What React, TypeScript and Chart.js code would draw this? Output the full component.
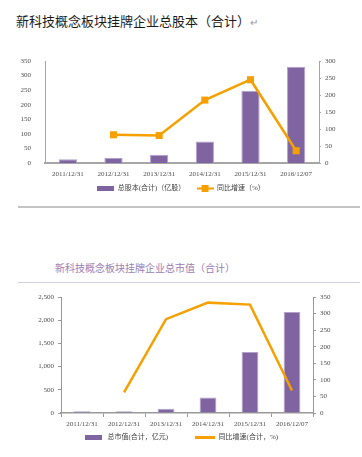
import { useEffect, useRef } from "react";
import { Chart, registerables } from "chart.js";

Chart.register(...registerables);

const categories = ["2011/12/31", "2012/12/31", "2013/12/31", "2014/12/31", "2015/12/31", "2016/12/07"];
const shareCapital = [13, 17, 28, 74, 248, 330];
const shareGrowth = [null, 83, 81, 185, 245, 36];
const marketValue = [36, 36, 93, 336, 1314, 2179];
const marketGrowth = [null, 62, 283, 333, 327, 68];

const title1 = "新科技概念板块挂牌企业总股本（合计）";
const title2 = "新科技概念板块挂牌企业总市值（合计）";
const legend1 = ["总股本(合计)（亿股）", "同比增速（%）"];
const legend2 = ["总市值(合计，亿元)", "同比增速(合计，%)"];

const PURPLE = "#8064a2";
const ORANGE = "#f5a000";
const TICK_COLOR = "#4d4d4d";
const MIX_FONT = "'Liberation Serif', 'Noto Sans CJK SC', serif";

function makeIcon(w: number, h: number, draw: (ctx: CanvasRenderingContext2D) => void) {
  const c = document.createElement("canvas");
  c.width = w;
  c.height = h;
  const ctx = c.getContext("2d")!;
  draw(ctx);
  return c;
}

function legendOpts(icons: HTMLCanvasElement[], texts: string[], boxW: number, fontSize: number) {
  return {
    position: "bottom" as const,
    labels: {
      usePointStyle: true,
      pointStyleWidth: boxW,
      padding: 6,
      color: "#404040",
      font: { family: MIX_FONT, size: fontSize },
      generateLabels: (chart: any) => {
        const items = (Chart.defaults.plugins.legend.labels as any).generateLabels(chart);
        items.sort((a: any, b: any) => a.datasetIndex - b.datasetIndex);
        return items.map((it: any) => ({
          ...it,
          text: texts[it.datasetIndex],
          pointStyle: icons[it.datasetIndex],
        }));
      },
    },
  };
}

function ChartOne() {
  const ref = useRef<HTMLCanvasElement>(null);
  useEffect(() => {
    const barIcon = makeIcon(17, 5, (ctx) => {
      ctx.fillStyle = PURPLE;
      ctx.fillRect(0, 0, 17, 5);
    });
    const lineIcon = makeIcon(17, 7, (ctx) => {
      ctx.fillStyle = ORANGE;
      ctx.fillRect(0, 2.5, 17, 2);
      ctx.fillRect(5, 0, 7, 7);
    });
    const chart = new Chart(ref.current!, {
      type: "bar",
      data: {
        labels: categories,
        datasets: [
          {
            type: "bar",
            label: legend1[0],
            data: shareCapital,
            backgroundColor: PURPLE,
            borderColor: "#b3a2c7",
            borderWidth: 1,
            barPercentage: 0.4,
            categoryPercentage: 1,
            yAxisID: "y",
            order: 1,
          },
          {
            type: "line",
            label: legend1[1],
            data: shareGrowth,
            borderColor: ORANGE,
            backgroundColor: ORANGE,
            borderWidth: 2.5,
            pointStyle: "rect",
            pointRadius: 5,
            pointBackgroundColor: ORANGE,
            pointBorderWidth: 0,
            yAxisID: "y1",
            order: 0,
          },
        ],
      } as any,
      options: {
        responsive: false,
        animation: false,
        layout: { padding: { top: 16, left: 0, right: 0, bottom: 0 } },
        plugins: {
          legend: legendOpts([barIcon, lineIcon], [legend1[0] + "\u3000 ", legend1[1]], 17, 7) as any,
          tooltip: { enabled: false },
        },
        scales: {
          x: {
            grid: { display: true, drawOnChartArea: false, drawTicks: false },
            border: { color: "#a6a6a6", width: 2 },
            ticks: { color: TICK_COLOR, font: { family: MIX_FONT, size: 7 }, padding: 7, maxRotation: 0 },
            afterFit: (s: any) => {
              s.height = 16;
            },
          },
          y: {
            position: "left",
            min: 0,
            max: 350,
            ticks: { stepSize: 50, color: TICK_COLOR, font: { family: MIX_FONT, size: 7 }, padding: 6 },
            grid: { display: false },
            border: { color: "#a6a6a6", width: 1 },
            afterFit: (s: any) => {
              s.width = 45;
            },
          },
          y1: {
            position: "right",
            min: 0,
            max: 300,
            ticks: { stepSize: 50, color: TICK_COLOR, font: { family: MIX_FONT, size: 7 }, padding: 4 },
            grid: { display: true, drawOnChartArea: false, tickLength: 2, color: "#a6a6a6" },
            border: { color: "#a6a6a6", width: 1 },
            afterFit: (s: any) => {
              s.width = 43;
            },
          },
        },
      } as any,
    });
    return () => chart.destroy();
  }, []);
  return (
    <canvas
      ref={ref}
      width={362}
      height={157}
      style={{ position: "absolute", left: 0, top: 45, width: 362, height: 157, display: "block" }}
    />
  );
}

function ChartTwo() {
  const ref = useRef<HTMLCanvasElement>(null);
  useEffect(() => {
    const barIcon = makeIcon(17, 5, (ctx) => {
      ctx.fillStyle = PURPLE;
      ctx.fillRect(0, 0, 17, 5);
    });
    const lineIcon = makeIcon(20, 3, (ctx) => {
      ctx.fillStyle = ORANGE;
      ctx.fillRect(0, 0, 20, 3);
    });
    const chart = new Chart(ref.current!, {
      type: "bar",
      data: {
        labels: categories,
        datasets: [
          {
            type: "bar",
            label: legend2[0],
            data: marketValue,
            backgroundColor: PURPLE,
            borderColor: "#b3a2c7",
            borderWidth: 1,
            barPercentage: 0.4,
            categoryPercentage: 1,
            yAxisID: "y",
            order: 1,
          },
          {
            type: "line",
            label: legend2[1],
            data: marketGrowth,
            borderColor: ORANGE,
            backgroundColor: ORANGE,
            borderWidth: 2.5,
            pointRadius: 0,
            yAxisID: "y1",
            order: 0,
          },
        ],
      } as any,
      options: {
        responsive: false,
        animation: false,
        layout: { padding: { top: 12, left: 0, right: 0, bottom: 0 } },
        plugins: {
          legend: legendOpts([barIcon, lineIcon], [legend2[0] + "\u3000\u3000\u3000", legend2[1]], 20, 7) as any,
          tooltip: { enabled: false },
        },
        scales: {
          x: {
            grid: { display: true, offset: true, drawOnChartArea: false, tickLength: 4, color: "#999" },
            border: { color: "#999", width: 1.5 },
            ticks: { color: TICK_COLOR, font: { family: MIX_FONT, size: 7 }, padding: 3, maxRotation: 0 },
            afterFit: (s: any) => {
              s.height = 15;
            },
          },
          y: {
            position: "left",
            min: 0,
            max: 2500,
            ticks: {
              stepSize: 500,
              color: TICK_COLOR,
              font: { family: MIX_FONT, size: 7 },
              padding: 4,
              callback: (v: any) => Number(v).toLocaleString("en-US"),
            },
            grid: { display: true, drawOnChartArea: false, tickLength: 3, color: "#999" },
            border: { color: "#999", width: 1 },
            afterFit: (s: any) => {
              s.width = 61;
            },
          },
          y1: {
            position: "right",
            min: 0,
            max: 350,
            ticks: { stepSize: 50, color: TICK_COLOR, font: { family: MIX_FONT, size: 7 }, padding: 4 },
            grid: { display: true, drawOnChartArea: false, tickLength: 3, color: "#999" },
            border: { color: "#999", width: 1 },
            afterFit: (s: any) => {
              s.width = 49;
            },
          },
        },
      } as any,
    });
    return () => chart.destroy();
  }, []);
  return (
    <canvas
      ref={ref}
      width={362}
      height={166}
      style={{ position: "absolute", left: 0, top: 285, width: 362, height: 166, display: "block" }}
    />
  );
}

export default function App() {
  return (
    <div
      style={{
        position: "absolute",
        left: 0,
        top: 0,
        width: 362,
        height: 457,
        background: "#ffffff",
        overflow: "hidden",
      }}
    >
      <div
        style={{
          position: "absolute",
          left: 16,
          top: 13,
          fontSize: 13,
          lineHeight: "16px",
          fontFamily: "'Noto Sans CJK SC', sans-serif",
          color: "#1a1a1a",
          whiteSpace: "nowrap",
        }}
      >
        {title1}
        <span style={{ color: "#9a9a9a", fontSize: 10 }}>↵</span>
      </div>
      <ChartOne />
      <div
        style={{
          position: "absolute",
          left: 18,
          top: 206,
          width: 342,
          height: 2,
          background: "#c4c4c4",
        }}
      />
      <div
        style={{
          position: "absolute",
          left: 55,
          top: 262,
          fontSize: 10,
          lineHeight: "12px",
          fontFamily: "'Noto Sans CJK SC', sans-serif",
          color: "#9b7cb6",
          whiteSpace: "nowrap",
        }}
      >
        {title2}
      </div>
      <div
        style={{
          position: "absolute",
          left: 18,
          top: 282,
          width: 342,
          height: 1,
          background: "#d6cddf",
        }}
      />
      <ChartTwo />
    </div>
  );
}
